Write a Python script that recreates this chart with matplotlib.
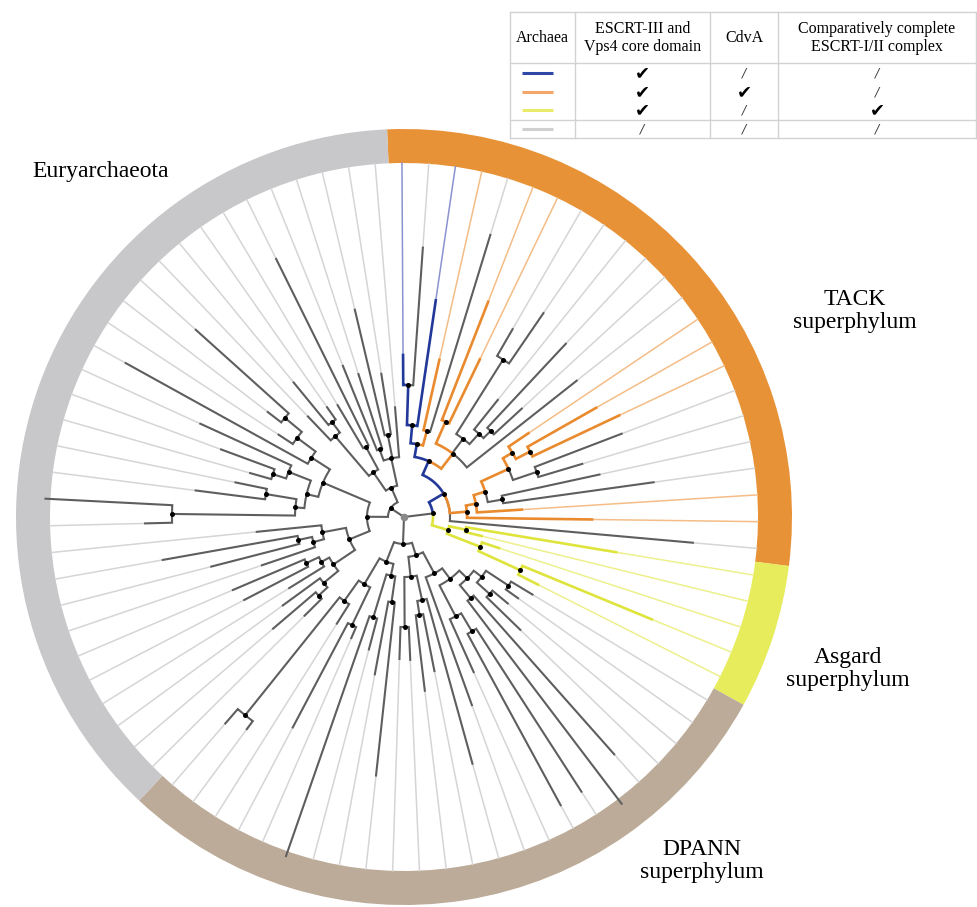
import numpy as np
import matplotlib
matplotlib.use("Agg")
import matplotlib.pyplot as plt
from matplotlib.patches import Wedge

# Subtrees as "(children)COLOUR:radius"; leaves are "COLOUR:tip radius" (px from the centre).
# Colours: B = ESCRT-III/Vps4 only, O = + CdvA, Y = + ESCRT-I/II, K = none
tack_newick = ("((((B:162,K:270)B:132,B:219)B:92,(O:161,K:295)O:89)B:74,"
               "((O:231,O:175)O:104,((K:217,K:247)K:186,(K:150,(K:237,K:160)K:122)K:112)K:98,K:220)O:80)B:61")
tack_right_newick = ("(((((O:150,(O:221,O:238)O:142)O:126,(K:233,K:186)K:140)O:115,"
                     "(K:200,K:252)K:100)O:85,O:118)O:73,O:188)O:63")
asgard_newick = "((Y:215,Y:80)Y:63,(Y:100,(Y:268,Y:150)Y:128)Y:82)Y:46"
dpann_a_newick = ("(((((K:150,K:140)K:125,(K:135,K:162)K:115)K:98,(K:317,K:360)K:105)K:88,"
                  "((K:327,K:328)K:133,K:170)K:112)K:77,K:200)K:64")
dpann_b_newick = "((K:256,(K:157,K:175)K:99)K:85,(K:143,K:142)K:110)K:60"
dpann_c_newick = ("(((K:260,K:160)K:86,(K:137,K:359)K:105)K:60,"
                  "((K:132,K:238)K:120,(K:126,(K:264,K:273)K:254)K:103)K:78)K:48")
eury_low_newick = ("((((K:140,K:172)K:116,K:150)K:104,(K:135,(K:180,K:186)K:108)K:94)K:85,"
                   "((K:150,(K:199,K:245)K:108)K:94,K:148)K:83)K:59")
eury_mid_newick = ("((((K:259,K:359)K:232,(K:210,K:172)K:140)K:109,((K:160,K:195)K:138,K:224)K:124)K:100,"
                   "(K:318,(K:150,(K:172,K:280)K:155)K:133)K:110)K:88")
eury_up_newick = ("(((K:139,(K:174,K:134)K:119)K:106,(K:130,K:288)K:80)K:54,"
                  "((K:163,K:150)K:72,(K:213,K:145)K:84,K:110)K:60)K:32")

ring_labels = ["TACK\nsuperphylum", "Asgard\nsuperphylum", "DPANN\nsuperphylum", "Euryarchaeota"]
ring_counts = [23, 5, 24, 31]
ring_colors = ["#e89237", "#e6ec5c", "#bcab98", "#c8c8ca"]

legend_colors = ["#2f48a8", "#f2a66a", "#e9ec6a", "#d0d0d0"]
legend_header = ["Archaea", "ESCRT-III and\nVps4 core domain", "CdvA",
                 "Comparatively complete\nESCRT-I/II complex"]
legend_marks = [[1, 0, 0], [1, 1, 0], [1, 0, 1], [0, 0, 0]]

DARK = {"K": "#5e5e5e", "B": "#23399a", "O": "#ea8a2e", "Y": "#dfe43c"}
LIGHT = {"K": "#d5d5d5", "B": "#8a93d0", "O": "#f4bd87", "Y": "#edf08c"}

tree_newick = ("(((" + tack_newick + "," + tack_right_newick + ",K:290)B:46," + asgard_newick + ")K:29,"
               "((" + dpann_a_newick + "," + dpann_b_newick + ")K:40," + dpann_c_newick + ")K:27,"
               "((" + eury_low_newick + "," + eury_mid_newick + ")K:37," + eury_up_newick + ")K:16)K:0")


def parse(s):
    pos = 0

    def node():
        nonlocal pos
        kids = []
        if s[pos] == "(":
            pos += 1
            kids.append(node())
            while s[pos] == ",":
                pos += 1
                kids.append(node())
            pos += 1
        j = pos
        while pos < len(s) and s[pos] not in ",)":
            pos += 1
        col, r = s[j:pos].split(":")
        return {"col": col, "r": float(r), "kids": kids}
    return node()


root = parse(tree_newick)
n_leaves = sum(ring_counts)
START = 92.5
STEP = 360.0 / n_leaves
CX, CY = 404, 390
R_OUT, R_IN = 388, 354

leaf_i = 0


def place(n):
    global leaf_i
    if not n["kids"]:
        n["a"] = START - (leaf_i + 0.5) * STEP
        leaf_i += 1
    else:
        for k in n["kids"]:
            place(k)
        n["a"] = (n["kids"][0]["a"] + n["kids"][-1]["a"]) / 2


place(root)
assert leaf_i == n_leaves, leaf_i


def xy(r, a):
    t = np.radians(a)
    return CX + r * np.cos(t), CY + r * np.sin(t)


fig = plt.figure(figsize=(9.77, 9.07), dpi=100)
ax = fig.add_axes([0, 0, 1, 1])
ax.set_xlim(0, 977)
ax.set_ylim(0, 907)
ax.axis("off")

# coloured ring of clades
edge = START
for cnt, col in zip(ring_counts, ring_colors):
    ax.add_patch(Wedge((CX, CY), R_OUT, edge - cnt * STEP, edge, width=R_OUT - R_IN,
                       facecolor=col, edgecolor="none", zorder=0))
    edge -= cnt * STEP

dots = []


def draw(n):
    if n["kids"]:
        dots.append(xy(n["r"], n["a"]))
    for k in n["kids"]:
        arc = np.linspace(n["a"], k["a"], 40)
        xs, ys = xy(np.full(40, n["r"]), arc)
        x2, y2 = xy(k["r"], k["a"])
        grey = k["col"] == "K"
        ax.plot(np.append(xs, x2), np.append(ys, y2), color=DARK[k["col"]],
                lw=1.5 if grey else 1.9, solid_joinstyle="miter", zorder=2 if grey else 3)
        if not k["kids"]:
            ex, ey = xy(np.array([k["r"], R_IN]), k["a"])
            ax.plot(ex, ey, color=LIGHT[k["col"]], lw=1.1, zorder=1)
        draw(k)


draw(root)
dx, dy = zip(*dots[1:])
ax.scatter(dx, dy, s=13, color="black", zorder=5, linewidths=0)
ax.scatter([CX], [CY], s=30, color="#8a8a8a", zorder=5, linewidths=0)

serif = ["Liberation Serif", "DejaVu Sans"]
ax.text(32, 735, ring_labels[3], family=serif, fontsize=17, ha="left", va="center")
ax.text(855, 596, ring_labels[0], family=serif, fontsize=17, ha="center", va="center", linespacing=1.15)
ax.text(848, 238, ring_labels[1], family=serif, fontsize=17, ha="center", va="center", linespacing=1.15)
ax.text(702, 46, ring_labels[2], family=serif, fontsize=17, ha="center", va="center", linespacing=1.15)

# legend table
tx = [510, 575, 710, 778, 976]
ty = [895, 844, 787, 769]
for y in ty:
    ax.plot([tx[0], tx[-1]], [y, y], color="#d2d2d2", lw=1.0)
for x in tx:
    ax.plot([x, x], [ty[0], ty[-1]], color="#d2d2d2", lw=1.0)
for j, h in enumerate(legend_header):
    ax.text((tx[j] + tx[j + 1]) / 2, 869, h, family=serif, fontsize=11.5,
            ha="center", va="center", linespacing=1.15)
row_y = [834, 815, 797, 778]
for yy, col, marks in zip(row_y, legend_colors, legend_marks):
    ax.plot([522, 553], [yy, yy], color=col, lw=2.2, solid_capstyle="butt")
    for j, m in enumerate(marks):
        xc = (tx[j + 1] + tx[j + 2]) / 2
        if m:
            ax.text(xc, yy, "\u2714", family="DejaVu Sans", fontsize=13, ha="center", va="center")
        else:
            ax.text(xc, yy, "/", family="DejaVu Sans", fontsize=9, ha="center", va="center",
                    color="#444444", style="italic")

fig.savefig("out.png", dpi=100)
